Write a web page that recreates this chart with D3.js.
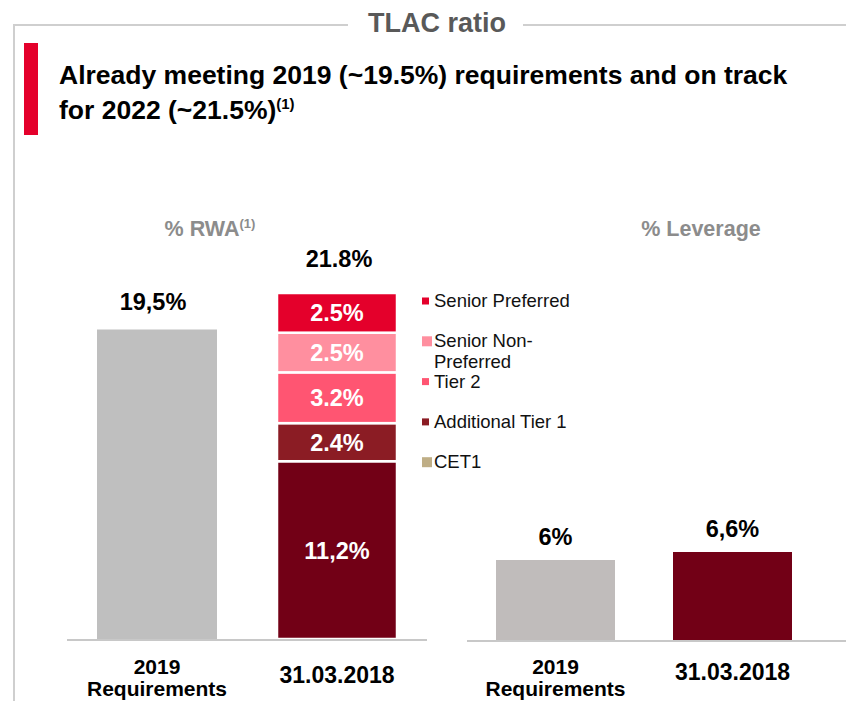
<!DOCTYPE html>
<html>
<head>
<meta charset="utf-8">
<script src="https://cdn.jsdelivr.net/npm/d3@7"></script>
<style>
    html,body{margin:0;padding:0;background:#fff;}
    svg{display:block;font-family:"Liberation Sans",Arial,sans-serif;}
</style>
</head>
<body>
<svg id="chart" width="846" height="701"></svg>
<script>
// data
const rwa_categories=["2019 Requirements","31.03.2018"];
const rwa_requirement=19.5;
const rwa_requirement_label="19,5%";
const rwa_components=["CET1","Additional Tier 1","Tier 2","Senior Non-Preferred","Senior Preferred"];
const rwa_component_values=[11.2,2.4,3.2,2.5,2.5];
const rwa_component_labels=["11,2%","2.4%","3.2%","2.5%","2.5%"];
const rwa_total_label="21.8%";
const leverage_categories=["2019 Requirements","31.03.2018"];
const leverage_values=[6,6.6];
const leverage_labels=["6%","6,6%"];
const legend_order=["Senior Preferred","Senior Non-Preferred","Tier 2","Additional Tier 1","CET1"];

const svg=d3.select("#chart");

const bar_colors={
    "CET1":"#720016",
    "Additional Tier 1":"#8b1c24",
    "Tier 2":"#ff5572",
    "Senior Non-Preferred":"#ff8f9f",
    "Senior Preferred":"#e4002b"
};
// legend uses a tan square for CET1 in the original
const legend_colors=Object.assign({},bar_colors,{"CET1":"#bfae86"});
const legend_sizes={"Senior Non-Preferred":10,"CET1":10};

const value_font=23.5;

// frame
const frame_color="#cfcfcf";
svg.append("line").attr("x1",14).attr("y1",25).attr("x2",348).attr("y2",25)
    .attr("stroke",frame_color).attr("stroke-width",2);
svg.append("line").attr("x1",523).attr("y1",25).attr("x2",846).attr("y2",25)
    .attr("stroke",frame_color).attr("stroke-width",2);
svg.append("line").attr("x1",14).attr("y1",24).attr("x2",14).attr("y2",701)
    .attr("stroke",frame_color).attr("stroke-width",2);

svg.append("text")
    .attr("x",437).attr("y",32)
    .attr("text-anchor","middle")
    .attr("font-size",27).attr("font-weight","bold")
    .attr("fill","#595959")
    .text("TLAC ratio");

// headline
svg.append("rect").attr("x",24).attr("y",43).attr("width",14).attr("height",92).attr("fill","#e4002b");
svg.append("text")
    .attr("x",59).attr("y",84)
    .attr("font-size",26.5).attr("font-weight","bold").attr("fill","#000")
    .text("Already meeting 2019 (~19.5%) requirements and on track");
const line2=svg.append("text")
    .attr("x",59).attr("y",119)
    .attr("font-size",26.5).attr("font-weight","bold").attr("fill","#000");
line2.append("tspan").text("for 2022 (~21.5%)");
line2.append("tspan").attr("dy",-10).attr("font-size",15).text("(1)");

// ---------- % RWA panel ----------
const rwa_x=d3.scaleBand().domain(rwa_categories).range([67,427]).paddingInner(1/3).paddingOuter(1/6);
const rwa_y=d3.scaleLinear().domain([0,21.8]).range([639,293]);

svg.append("text")
    .attr("x",210).attr("y",236)
    .attr("text-anchor","middle")
    .attr("font-size",21.5).attr("font-weight","bold").attr("fill","#8c8c8c")
    .call(t=>{
        t.append("tspan").text("% RWA");
        t.append("tspan").attr("dy",-8).attr("font-size",13).text("(1)");
    });

// requirement bar
svg.append("rect")
    .attr("x",rwa_x(rwa_categories[0]))
    .attr("y",rwa_y(rwa_requirement))
    .attr("width",rwa_x.bandwidth())
    .attr("height",rwa_y(0)-rwa_y(rwa_requirement))
    .attr("fill","#bfbfbf");
svg.append("text")
    .attr("x",rwa_x(rwa_categories[0])+rwa_x.bandwidth()/2-4)
    .attr("y",rwa_y(rwa_requirement)-20)
    .attr("text-anchor","middle")
    .attr("font-size",value_font).attr("font-weight","bold").attr("fill","#000")
    .text(rwa_requirement_label);

// stacked bar
let acc=0;
const stack_rows=rwa_components.map((name,i)=>{
    const row={name,y0:acc,y1:acc+rwa_component_values[i],label:rwa_component_labels[i]};
    acc=row.y1;
    return row;
});
const stack_g=svg.append("g");
stack_g.selectAll("rect")
    .data(stack_rows)
    .join("rect")
    .attr("x",rwa_x(rwa_categories[1]))
    .attr("y",d=>rwa_y(d.y1))
    .attr("width",rwa_x.bandwidth())
    .attr("height",d=>rwa_y(d.y0)-rwa_y(d.y1))
    .attr("fill",d=>bar_colors[d.name])
    .attr("stroke","#fff")
    .attr("stroke-width",2.5);
stack_g.selectAll("text")
    .data(stack_rows)
    .join("text")
    .attr("x",rwa_x(rwa_categories[1])+rwa_x.bandwidth()/2)
    .attr("y",d=>(rwa_y(d.y0)+rwa_y(d.y1))/2+8.5)
    .attr("text-anchor","middle")
    .attr("font-size",value_font).attr("font-weight","bold").attr("fill","#fff")
    .text(d=>d.label);
svg.append("text")
    .attr("x",rwa_x(rwa_categories[1])+rwa_x.bandwidth()/2+2)
    .attr("y",rwa_y(acc)-26)
    .attr("text-anchor","middle")
    .attr("font-size",value_font).attr("font-weight","bold").attr("fill","#000")
    .text(rwa_total_label);

// axis line
svg.append("line")
    .attr("x1",67).attr("x2",427).attr("y1",rwa_y(0)+1).attr("y2",rwa_y(0)+1)
    .attr("stroke","#c8c8c8").attr("stroke-width",2);

// legend
const legend=svg.append("g").attr("transform","translate(422,0)");
legend_order.forEach((name,i)=>{
    const cy=301+i*40.3;
    const s=legend_sizes[name]||7;
    legend.append("rect")
        .attr("x",0).attr("y",cy-s/2)
        .attr("width",s).attr("height",s)
        .attr("fill",legend_colors[name]);
    const lines=name.length>18?name.replace("-","-\n").split("\n"):[name];
    const t=legend.append("text")
        .attr("x",12).attr("y",cy+6)
        .attr("font-size",18.5).attr("fill","#111");
    lines.forEach((ln,j)=>{
        t.append("tspan").attr("x",12).attr("dy",j===0?0:21).text(ln);
    });
});

// ---------- % Leverage panel ----------
const lev_x=d3.scaleBand().domain(leverage_categories).range([467,821]).paddingInner(58/177).paddingOuter(29/177);
const lev_y=d3.scaleLinear().domain([0,6.6]).range([640,552]);
const lev_colors=["#c0bcbb","#720016"];

svg.append("text")
    .attr("x",701).attr("y",236)
    .attr("text-anchor","middle")
    .attr("font-size",21.5).attr("font-weight","bold").attr("fill","#8c8c8c")
    .text("% Leverage");

svg.append("g").selectAll("rect")
    .data(leverage_values)
    .join("rect")
    .attr("x",(d,i)=>lev_x(leverage_categories[i]))
    .attr("y",d=>lev_y(d))
    .attr("width",lev_x.bandwidth())
    .attr("height",d=>lev_y(0)-lev_y(d))
    .attr("fill",(d,i)=>lev_colors[i]);
svg.append("g").selectAll("text")
    .data(leverage_values)
    .join("text")
    .attr("x",(d,i)=>lev_x(leverage_categories[i])+lev_x.bandwidth()/2)
    .attr("y",d=>lev_y(d)-15)
    .attr("text-anchor","middle")
    .attr("font-size",value_font).attr("font-weight","bold").attr("fill","#000")
    .text((d,i)=>leverage_labels[i]);

svg.append("line")
    .attr("x1",467).attr("x2",846).attr("y1",lev_y(0)+1).attr("y2",lev_y(0)+1)
    .attr("stroke","#c8c8c8").attr("stroke-width",2);

// category labels (under both panels)
function category_labels(scale,cats,y_two,y_one){
    cats.forEach(c=>{
        const cx=scale(c)+scale.bandwidth()/2;
        const parts=c.split(" ");
        const t=svg.append("text")
            .attr("x",cx)
            .attr("y",parts.length>1?y_two:y_one)
            .attr("text-anchor","middle")
            .attr("font-size",parts.length>1?21:23).attr("font-weight","bold").attr("fill","#000");
        parts.forEach((p,j)=>{
            t.append("tspan").attr("x",cx).attr("dy",j===0?0:21.5).text(p);
        });
    });
}
category_labels(rwa_x,rwa_categories,674,683);
category_labels(lev_x,leverage_categories,674,680);
</script>
</body>
</html>
